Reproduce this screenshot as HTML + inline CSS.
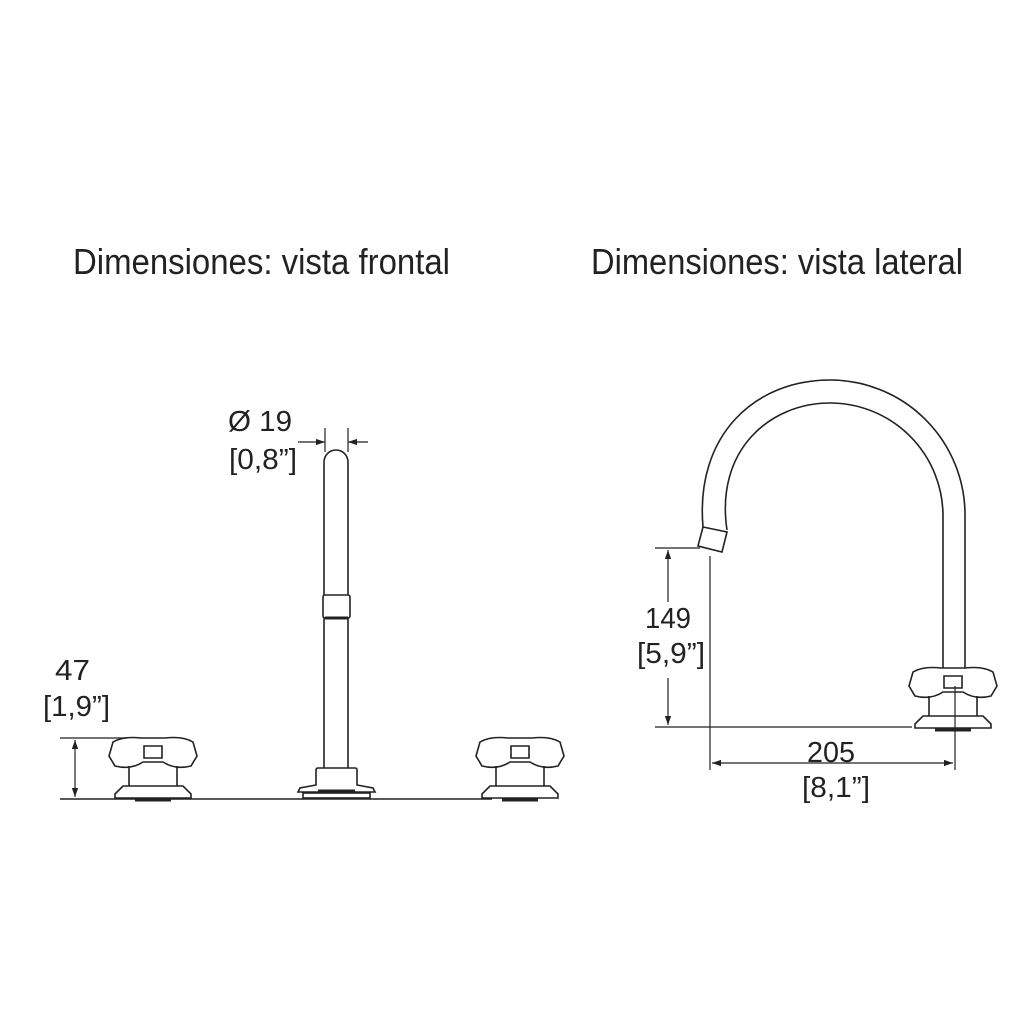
<!DOCTYPE html>
<html><head><style>html,body{margin:0;padding:0;background:#fff}svg{display:block}</style></head>
<body>
<svg width="1024" height="1028" viewBox="0 0 1024 1028" xmlns="http://www.w3.org/2000/svg" font-family="Liberation Sans, sans-serif" fill="none" stroke="#222" stroke-width="1.6">
<defs>
<marker id="ar" viewBox="0 0 10 10" refX="10" refY="5" markerWidth="9" markerHeight="9" orient="auto-start-reverse" markerUnits="userSpaceOnUse"><path d="M0,1.5 L10,5 L0,8.5 Z" fill="#222" stroke="none"/></marker>
<g id="handle">
<path d="M-40,-26 Q-30,-32 -12,-30 L12,-30 Q30,-32 40,-26 L44,-12 L38,-2 Q22,2 10,-6 L-10,-6 Q-22,2 -38,-2 L-44,-12 Z" fill="#fff"/>
<path d="M-9,-22 L9,-22 L9,-10 L-9,-10 Z"/>
<path d="M-24,-2 L-24,18 M24,-2 L24,18"/>
<path d="M-30,18 L30,18 L38,26 L38,30 L-38,30 L-38,26 Z" fill="#fff"/>
<path d="M-18,32 L18,32" stroke-width="3"/>
</g>
</defs>
<g fill="#222" stroke="none" font-size="36">
<text x="73" y="274" textLength="377" lengthAdjust="spacingAndGlyphs">Dimensiones: vista frontal</text>
<text x="591" y="274" textLength="372" lengthAdjust="spacingAndGlyphs">Dimensiones: vista lateral</text>
</g>
<g fill="#222" stroke="none" font-size="29">
<text x="228" y="431" textLength="64" lengthAdjust="spacingAndGlyphs">Ø 19</text>
<text x="229" y="469" textLength="68" lengthAdjust="spacingAndGlyphs">[0,8”]</text>
<text x="55" y="680" textLength="35" lengthAdjust="spacingAndGlyphs">47</text>
<text x="43" y="716" textLength="67" lengthAdjust="spacingAndGlyphs">[1,9”]</text>
<text x="645" y="628" textLength="46" lengthAdjust="spacingAndGlyphs">149</text>
<text x="637" y="663" textLength="68" lengthAdjust="spacingAndGlyphs">[5,9”]</text>
<text x="807" y="762" textLength="48" lengthAdjust="spacingAndGlyphs">205</text>
<text x="802" y="797" textLength="68" lengthAdjust="spacingAndGlyphs">[8,1”]</text>
</g>
<!-- front view -->
<line x1="60" y1="799" x2="492" y2="799"/>
<line x1="60" y1="738" x2="140" y2="738" stroke-width="1.2"/>
<line x1="75" y1="740" x2="75" y2="797" stroke-width="1.2" marker-start="url(#ar)" marker-end="url(#ar)"/>
<path d="M324,768 L324,462 A12,12 0 0 1 348,462 L348,768"/>
<rect x="323" y="595" width="27" height="23" fill="#fff" rx="2"/>
<line x1="325" y1="618" x2="348" y2="618" stroke-width="3"/>
<line x1="325" y1="428" x2="325" y2="452" stroke-width="1.2"/>
<line x1="348" y1="428" x2="348" y2="452" stroke-width="1.2"/>
<line x1="298" y1="442" x2="325" y2="442" stroke-width="1.2" marker-end="url(#ar)"/>
<line x1="368" y1="442" x2="348" y2="442" stroke-width="1.2" marker-end="url(#ar)"/>
<path d="M316,785 L316,770 Q316,768 318,768 L355,768 Q357,768 357,770 L357,785 L373,788 L375,792 L298,792 L300,788 Z" fill="#fff"/>
<rect x="303" y="793" width="67" height="5" fill="#fff"/>
<line x1="318" y1="791" x2="355" y2="791" stroke-width="3"/>
<use href="#handle" transform="translate(153,768)"/>
<use href="#handle" transform="translate(520,768)"/>
<!-- side view -->
<path d="M965,672 L965,515 A135,135 0 0 0 830,380 C755,380 695,435 703,527"/>
<path d="M943,672 L943,516 A113,113 0 0 0 830,403 C770,403 715,450 727,530"/>
<path d="M703,527 L727,532 L722,552 L698,546 Z" fill="#fff"/>
<use href="#handle" transform="translate(953,698)"/>
<line x1="655" y1="548" x2="700" y2="548" stroke-width="1.2"/>
<line x1="655" y1="727" x2="912" y2="727" stroke-width="1.2"/>
<line x1="668" y1="550" x2="668" y2="602" stroke-width="1.2" marker-start="url(#ar)"/>
<line x1="668" y1="678" x2="668" y2="725" stroke-width="1.2" marker-end="url(#ar)"/>
<line x1="710" y1="556" x2="710" y2="770" stroke-width="1.2"/>
<line x1="955" y1="686" x2="955" y2="770" stroke-width="1.2"/>
<line x1="712" y1="763" x2="953" y2="763" stroke-width="1.2" marker-start="url(#ar)" marker-end="url(#ar)"/>
</svg>
</body></html>
